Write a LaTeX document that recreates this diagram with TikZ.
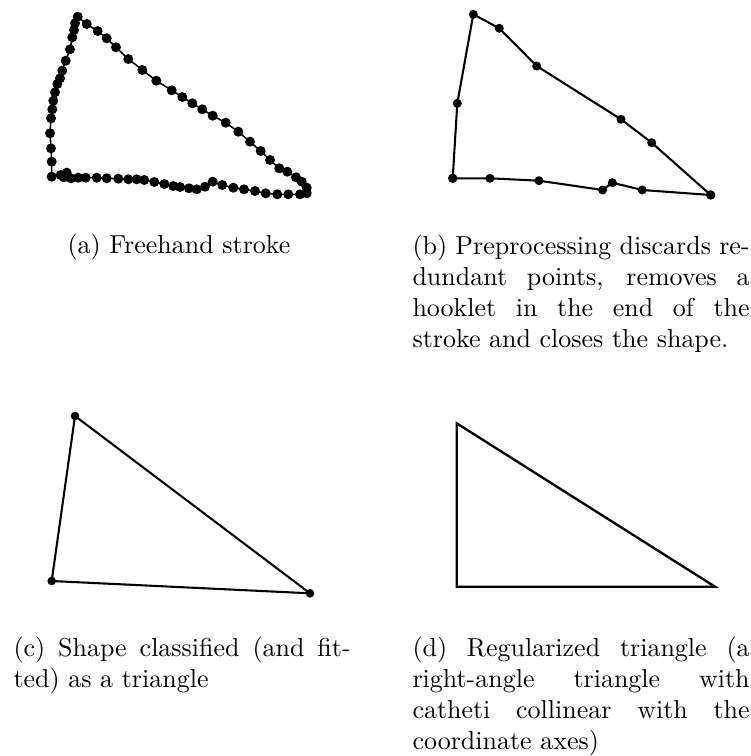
\documentclass[tikz,border=0pt]{standalone}
\usepackage{amsmath}
\usepackage{amssymb}
\usepackage{tikz}

\tikzset{
  caption/.style={anchor=base west, inner sep=0, text width=129.8pt, align=justify},
  dot/.style={fill=black, draw=none}
}

\begin{document}
\begin{tikzpicture}[x=0.385pt,y=0.385pt,yscale=-1,xscale=1]
\useasboundingbox (0,0) rectangle (751,756);
% (a) freehand stroke
\draw [line width=0.6pt, mark=*, mark size=1.6pt] plot coordinates {
  (51.7,176.7) (51.7,161.7) (51,148.3) (50,133.3) (51,118.3) (52.3,109.3)
  (53.3,100.7) (55,92.3) (57.3,84) (60,78.3) (62.3,70.7) (65.7,60.7)
  (70,49.3) (72.3,37.3) (74,30) (75,23.3) (77.7,16.7)
  (86.7,24) (97.7,31) (106.7,38.3) (116,47.3) (128.3,59) (142.3,70)
  (156.3,80.7) (171.7,90.3) (182.3,97) (192.3,103.3) (202.3,109.3)
  (212.7,115.7) (225.7,122.7) (238.3,131.7) (250,141.7) (260.7,151)
  (270,160) (279.3,168.3) (287.3,171.7) (296,177.3) (301.7,181.7)
  (306.7,187.7) (306.7,193.3)
  (300,194.3) (288.3,194.3) (277.3,194.3) (265.7,193.3) (255,191)
  (244,189.3) (233.3,187.7) (222.3,185) (212.7,181.7) (205,186.7)
  (196.7,189.3) (189,188.3) (180,187) (173.3,186) (164.3,184) (154.3,182)
  (144.3,180) (136.7,179.3) (128.3,179.3) (118.3,178.7) (106.7,178.3)
  (96.7,177.7) (85.7,177.7) (78.3,177.7) (71,178.3)
  (64,177.3) (66.7,172.7) (60.7,175)};
\node [anchor=base, inner sep=0] (capa) at (179,253) {(a) Freehand stroke};
% (b) preprocessed
\draw [line width=0.8pt] (473.3,14.3) -- (499.3,28.3) -- (536.7,66) -- (621,119.3)
  -- (651.7,142.7) -- (710.7,195) -- (642.3,190) -- (612.3,182.7) -- (602.7,190)
  -- (539,180.7) -- (490,178.3) -- (452.7,178.3) -- (457.3,103.3) -- cycle;
\filldraw [dot] (473.3,14.3) circle (4.5);
\filldraw [dot] (499.3,28.3) circle (4.5);
\filldraw [dot] (536.7,66) circle (4.5);
\filldraw [dot] (621,119.3) circle (4.5);
\filldraw [dot] (651.7,142.7) circle (4.5);
\filldraw [dot] (710.7,195) circle (4.7);
\filldraw [dot] (642.3,190) circle (4.5);
\filldraw [dot] (612.3,182.7) circle (4.5);
\filldraw [dot] (602.7,190) circle (4.5);
\filldraw [dot] (539,180.7) circle (4.5);
\filldraw [dot] (490,178.3) circle (4.5);
\filldraw [dot] (452.7,178.3) circle (4.7);
\filldraw [dot] (457.3,103.3) circle (4.5);
\node [caption] (capb) at (412,254) {(b) Preprocessing discards re-\linebreak dundant points, removes a\linebreak hooklet in the end of the\linebreak stroke and closes the shape.};
% (c) classified
\draw [line width=0.8pt] (75,416) -- (310,593.3) -- (51.7,581) -- cycle;
\filldraw [dot] (75,416) circle (4.3);
\filldraw [dot] (310,593.3) circle (4.3);
\filldraw [dot] (51.7,581) circle (4.3);
\node [caption] (capc) at (13,656) {(c) Shape classified (and fit-\linebreak ted) as a triangle};
% (d) regularized
\draw [line width=0.9pt] (456.7,423.3) -- (715,586.7) -- (456.7,586.7) -- cycle;
\node [caption] (capd) at (412,656) {(d) Regularized triangle (a\linebreak right-angle triangle with\linebreak catheti collinear with the\linebreak coordinate axes)};
\end{tikzpicture}
\end{document}
